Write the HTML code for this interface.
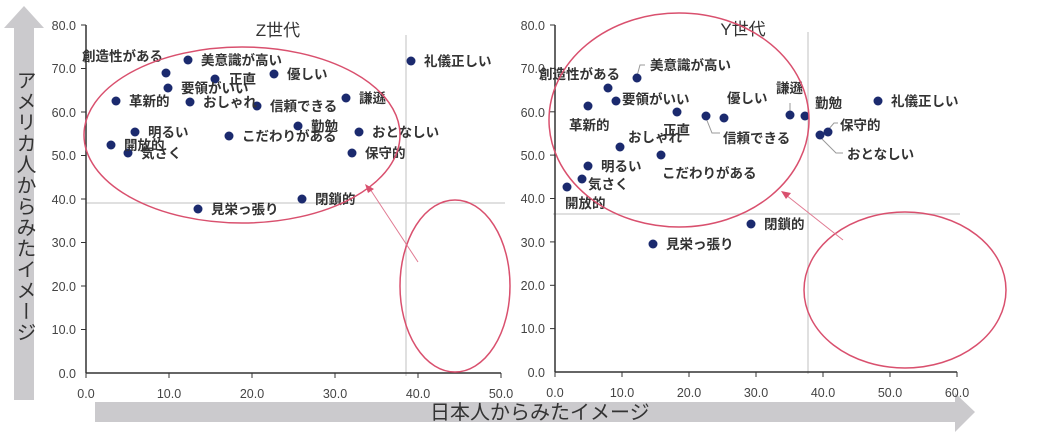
<!DOCTYPE html>
<html><head><meta charset="utf-8"><style>
body{margin:0;background:#fff;}
svg{display:block;font-family:"Liberation Sans","Noto Sans CJK JP",sans-serif;}
.t{font-size:12.5px;fill:#444;}
.l{font-size:13.5px;font-weight:bold;fill:#333;}
</style></head><body>
<svg width="1050" height="434" viewBox="0 0 1050 434">
<!-- axis arrows -->
<polygon points="14,400 34,400 34,28 44,28 24,6 4,28 14,28" fill="#cbcacd"/>
<text x="24" y="70" font-size="20" fill="#333" style="writing-mode:vertical-rl;letter-spacing:1px">アメリカ人からみたイメージ</text>
<polygon points="95,402 955,402 955,393 975,412 955,432 955,422 95,422" fill="#cbcacd"/>
<text x="430" y="419" font-size="20" fill="#333">日本人からみたイメージ</text>

<!-- LEFT CHART -->
<g>
<line x1="406" y1="35" x2="406" y2="376" stroke="#d5d5d5" stroke-width="1.5"/>
<line x1="86" y1="203" x2="505" y2="203" stroke="#d5d5d5" stroke-width="1.5"/>
<line x1="86" y1="25" x2="86" y2="373" stroke="#333" stroke-width="1.5"/>
<line x1="86" y1="373" x2="501" y2="373" stroke="#333" stroke-width="1.5"/>
<g stroke="#333">
<line x1="81" y1="25" x2="86" y2="25"/><line x1="81" y1="68.5" x2="86" y2="68.5"/><line x1="81" y1="112" x2="86" y2="112"/><line x1="81" y1="155.5" x2="86" y2="155.5"/><line x1="81" y1="199" x2="86" y2="199"/><line x1="81" y1="242.5" x2="86" y2="242.5"/><line x1="81" y1="286" x2="86" y2="286"/><line x1="81" y1="329.5" x2="86" y2="329.5"/>
<line x1="86" y1="373" x2="86" y2="378"/><line x1="169" y1="373" x2="169" y2="378"/><line x1="252" y1="373" x2="252" y2="378"/><line x1="335" y1="373" x2="335" y2="378"/><line x1="418" y1="373" x2="418" y2="378"/><line x1="501" y1="373" x2="501" y2="378"/>
</g>
<g class="t" text-anchor="end">
<text x="76" y="30">80.0</text><text x="76" y="73">70.0</text><text x="76" y="117">60.0</text><text x="76" y="160">50.0</text><text x="76" y="204">40.0</text><text x="76" y="247">30.0</text><text x="76" y="291">20.0</text><text x="76" y="334">10.0</text><text x="76" y="378">0.0</text>
</g>
<g class="t" text-anchor="middle">
<text x="86" y="398">0.0</text><text x="169" y="398">10.0</text><text x="252" y="398">20.0</text><text x="335" y="398">30.0</text><text x="418" y="398">40.0</text><text x="501" y="398">50.0</text>
</g>
<text x="278" y="36" font-size="17" fill="#333" text-anchor="middle">Z世代</text>
<g fill="#1b2a6e">
<circle cx="411" cy="61" r="4.5"/><circle cx="188" cy="60" r="4.5"/><circle cx="166" cy="73" r="4.5"/><circle cx="215" cy="79" r="4.5"/><circle cx="274" cy="74" r="4.5"/><circle cx="168" cy="88" r="4.5"/><circle cx="116" cy="101" r="4.5"/><circle cx="190" cy="102" r="4.5"/><circle cx="257" cy="106" r="4.5"/><circle cx="346" cy="98" r="4.5"/><circle cx="298" cy="126" r="4.5"/><circle cx="229" cy="136" r="4.5"/><circle cx="359" cy="132" r="4.5"/><circle cx="135" cy="132" r="4.5"/><circle cx="111" cy="145" r="4.5"/><circle cx="128" cy="153" r="4.5"/><circle cx="352" cy="153" r="4.5"/><circle cx="302" cy="199" r="4.5"/><circle cx="198" cy="209" r="4.5"/>
</g>
<g class="l">
<text x="424" y="66">礼儀正しい</text><text x="201" y="65">美意識が高い</text><text x="82" y="61">創造性がある</text><text x="229" y="84">正直</text><text x="287" y="79">優しい</text><text x="181" y="93">要領がいい</text><text x="129" y="106">革新的</text><text x="203" y="107">おしゃれ</text><text x="270" y="111">信頼できる</text><text x="359" y="103">謙遜</text><text x="311" y="131">勤勉</text><text x="242" y="141">こだわりがある</text><text x="372" y="137">おとなしい</text><text x="148" y="137">明るい</text><text x="124" y="150">開放的</text><text x="141" y="158">気さく</text><text x="365" y="158">保守的</text><text x="315" y="204">閉鎖的</text><text x="211" y="214">見栄っ張り</text>
</g>
<ellipse cx="242" cy="135" rx="158" ry="88" fill="none" stroke="#d9506e" stroke-width="1.5"/>
<ellipse cx="455" cy="286" rx="55" ry="86" fill="none" stroke="#d9506e" stroke-width="1.5"/>
<line x1="418" y1="262" x2="370" y2="189" stroke="#e07a92" stroke-width="1"/>
<polygon points="365,184 374,189 368,193" fill="#d9506e"/>
</g>

<!-- RIGHT CHART -->
<g>
<line x1="808" y1="32" x2="808" y2="374" stroke="#d5d5d5" stroke-width="1.5"/>
<line x1="553" y1="214" x2="960" y2="214" stroke="#d5d5d5" stroke-width="1.5"/>
<line x1="555" y1="25" x2="555" y2="372" stroke="#333" stroke-width="1.5"/>
<line x1="555" y1="372" x2="957" y2="372" stroke="#333" stroke-width="1.5"/>
<g stroke="#333">
<line x1="550" y1="25" x2="555" y2="25"/><line x1="550" y1="68.4" x2="555" y2="68.4"/><line x1="550" y1="111.8" x2="555" y2="111.8"/><line x1="550" y1="155.1" x2="555" y2="155.1"/><line x1="550" y1="198.5" x2="555" y2="198.5"/><line x1="550" y1="241.9" x2="555" y2="241.9"/><line x1="550" y1="285.3" x2="555" y2="285.3"/><line x1="550" y1="328.6" x2="555" y2="328.6"/>
<line x1="555" y1="372" x2="555" y2="377"/><line x1="622" y1="372" x2="622" y2="377"/><line x1="689" y1="372" x2="689" y2="377"/><line x1="756" y1="372" x2="756" y2="377"/><line x1="823" y1="372" x2="823" y2="377"/><line x1="890" y1="372" x2="890" y2="377"/><line x1="957" y1="372" x2="957" y2="377"/>
</g>
<g class="t" text-anchor="end">
<text x="545" y="30">80.0</text><text x="545" y="73">70.0</text><text x="545" y="117">60.0</text><text x="545" y="160">50.0</text><text x="545" y="203">40.0</text><text x="545" y="247">30.0</text><text x="545" y="290">20.0</text><text x="545" y="333">10.0</text><text x="545" y="377">0.0</text>
</g>
<g class="t" text-anchor="middle">
<text x="555" y="397">0.0</text><text x="622" y="397">10.0</text><text x="689" y="397">20.0</text><text x="756" y="397">30.0</text><text x="823" y="397">40.0</text><text x="890" y="397">50.0</text><text x="957" y="397">60.0</text>
</g>
<text x="743" y="35" font-size="17" fill="#333" text-anchor="middle">Y世代</text>
<g stroke="#999" fill="none" stroke-width="1">
<polyline points="637,76 640,65 645,65"/><polyline points="706,118 712,133 720,133"/><polyline points="790,112 790,103"/><polyline points="828,130 834,123 838,123"/><polyline points="820,137 836,153 843,153"/>
</g>
<g fill="#1b2a6e">
<circle cx="637" cy="78" r="4.5"/><circle cx="608" cy="88" r="4.5"/><circle cx="616" cy="101" r="4.5"/><circle cx="588" cy="106" r="4.5"/><circle cx="677" cy="112" r="4.5"/><circle cx="706" cy="116" r="4.5"/><circle cx="724" cy="118" r="4.5"/><circle cx="790" cy="115" r="4.5"/><circle cx="805" cy="116" r="4.5"/><circle cx="878" cy="101" r="4.5"/><circle cx="828" cy="132" r="4.5"/><circle cx="820" cy="135" r="4.5"/><circle cx="620" cy="147" r="4.5"/><circle cx="661" cy="155" r="4.5"/><circle cx="588" cy="166" r="4.5"/><circle cx="582" cy="179" r="4.5"/><circle cx="567" cy="187" r="4.5"/><circle cx="751" cy="224" r="4.5"/><circle cx="653" cy="244" r="4.5"/>
</g>
<g class="l">
<text x="650" y="70">美意識が高い</text><text x="539" y="79">創造性がある</text><text x="622" y="104">要領がいい</text><text x="569" y="130">革新的</text><text x="663" y="135">正直</text><text x="723" y="143">信頼できる</text><text x="727" y="103">優しい</text><text x="776" y="93">謙遜</text><text x="815" y="108">勤勉</text><text x="891" y="106">礼儀正しい</text><text x="840" y="130">保守的</text><text x="847" y="159">おとなしい</text><text x="628" y="142">おしゃれ</text><text x="662" y="178">こだわりがある</text><text x="601" y="171">明るい</text><text x="588" y="189">気さく</text><text x="565" y="208">開放的</text><text x="764" y="229">閉鎖的</text><text x="666" y="249">見栄っ張り</text>
</g>
<ellipse cx="679" cy="120" rx="130" ry="107" fill="none" stroke="#d9506e" stroke-width="1.5"/>
<ellipse cx="905" cy="290" rx="101" ry="78" fill="none" stroke="#d9506e" stroke-width="1.5"/>
<line x1="843" y1="240" x2="786" y2="195" stroke="#e07a92" stroke-width="1"/>
<polygon points="781,191 791,193 786,199" fill="#d9506e"/>
</g>
</svg>
</body></html>
